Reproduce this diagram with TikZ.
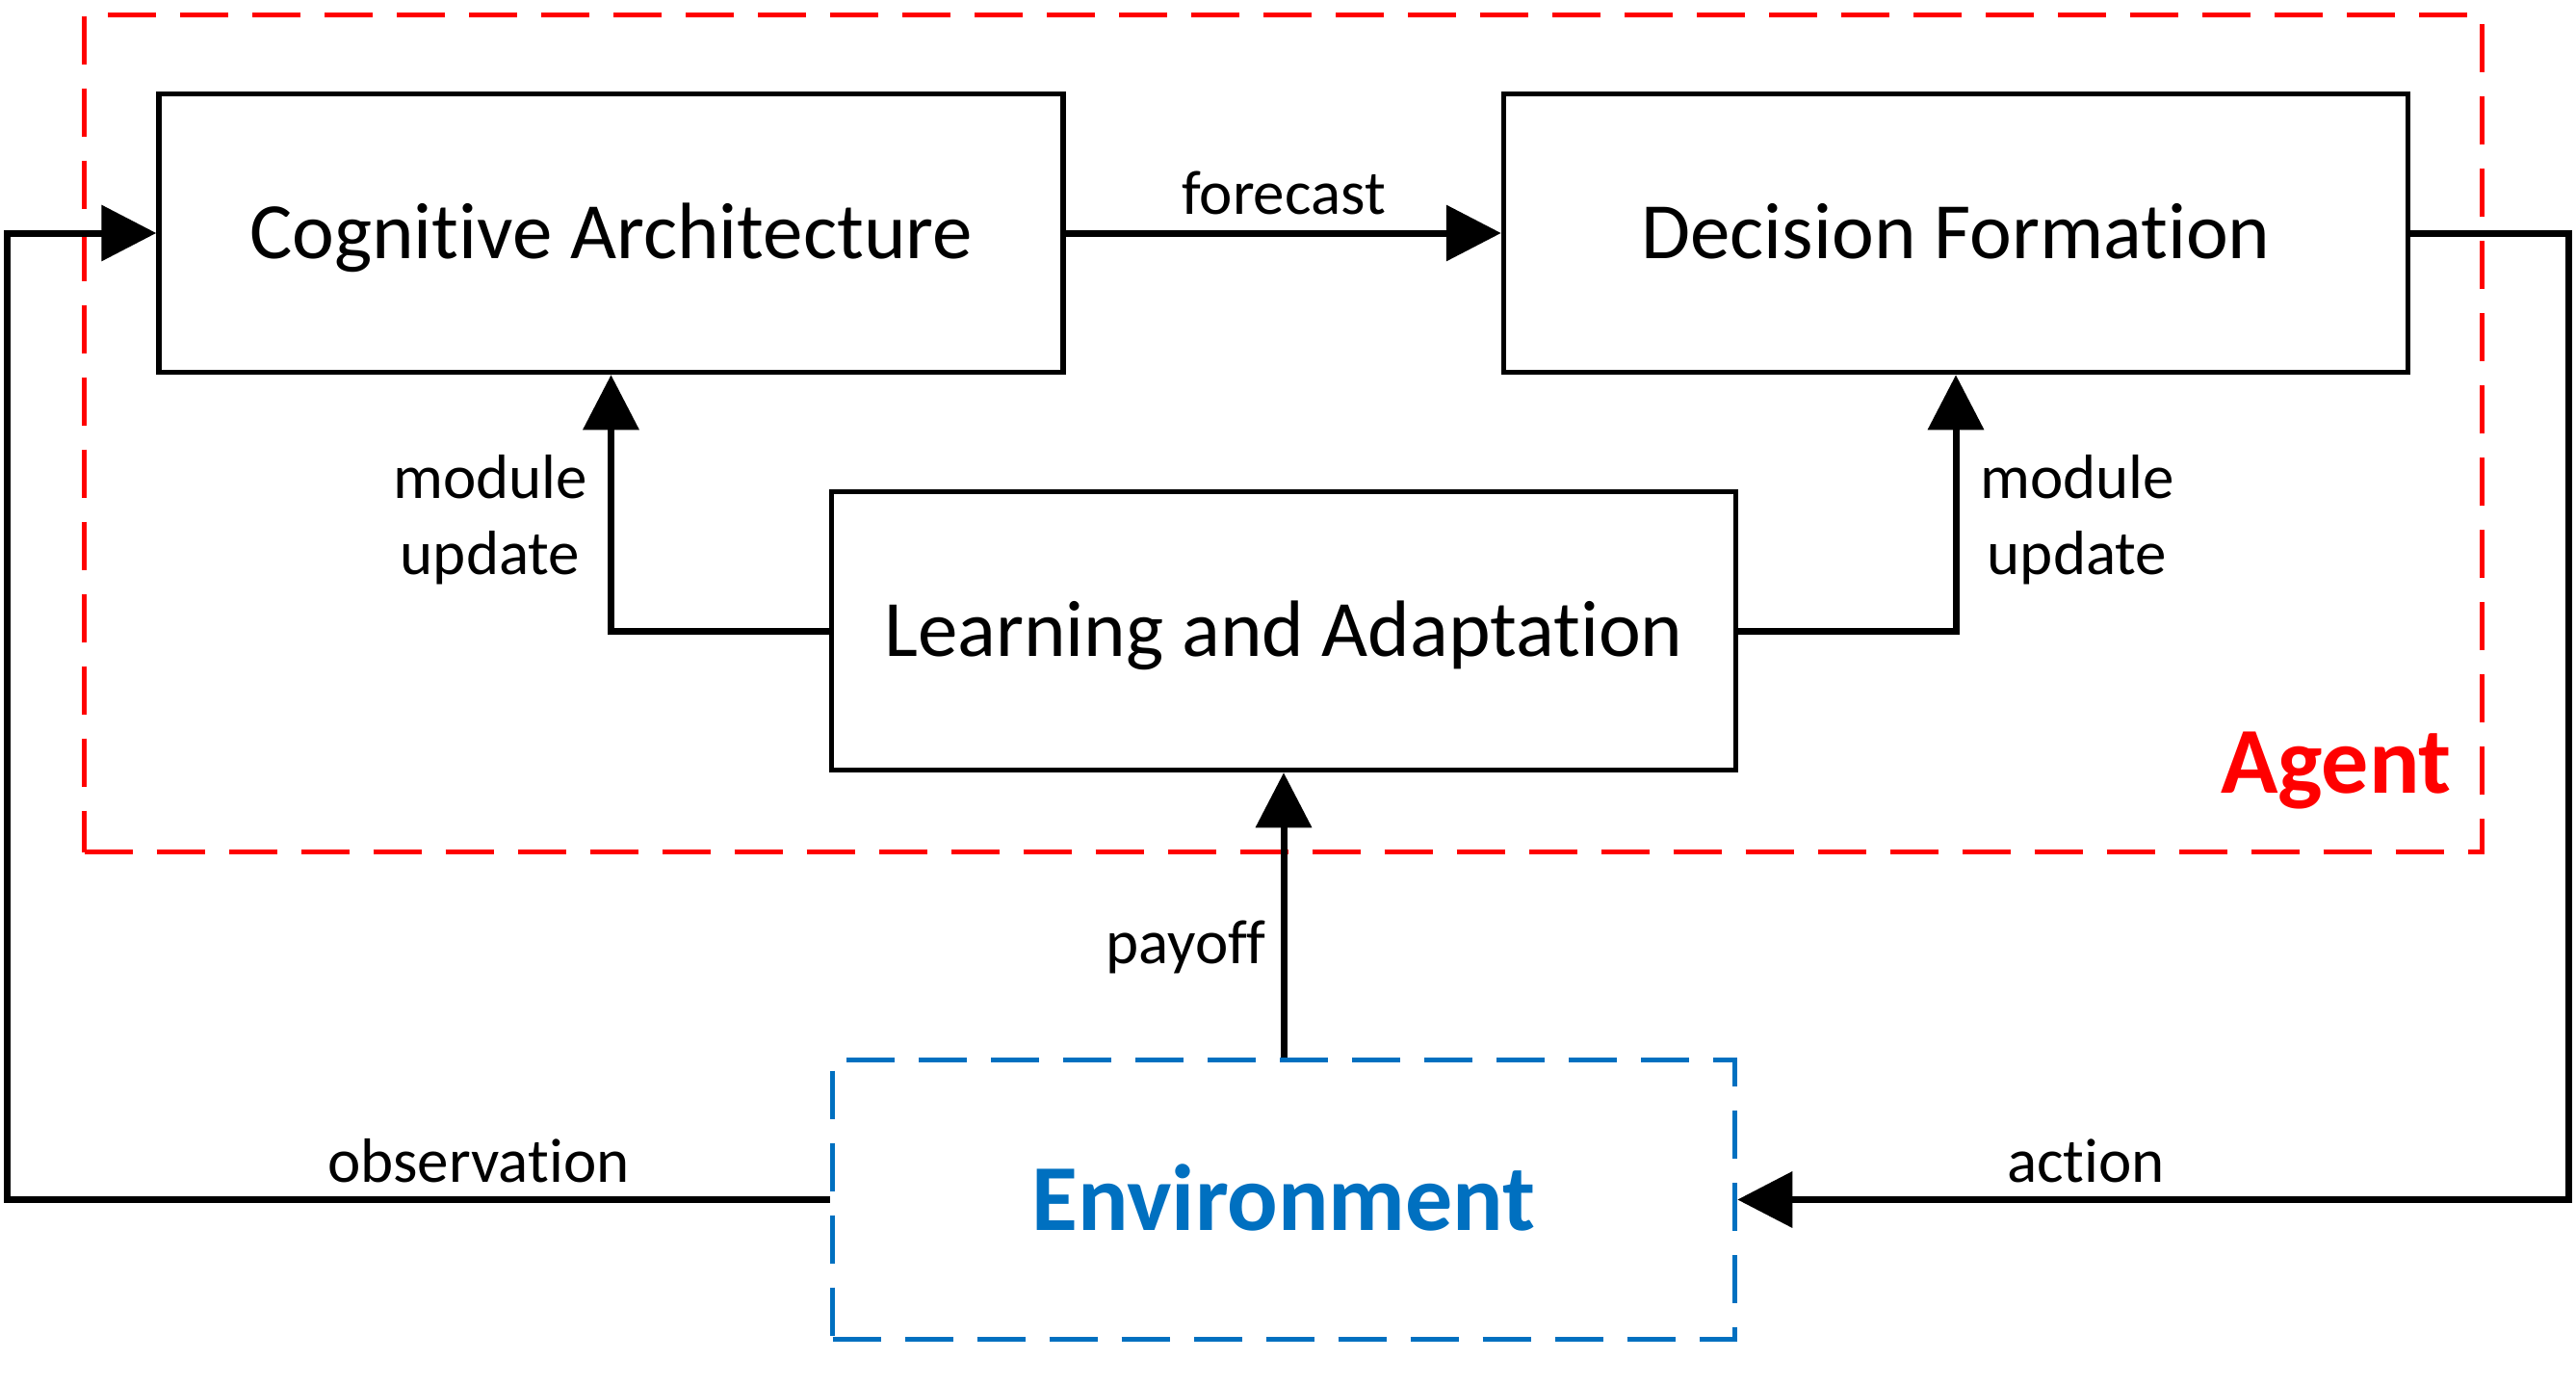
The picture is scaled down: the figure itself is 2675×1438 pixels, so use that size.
\documentclass[tikz,border=0pt]{standalone}
\usepackage{fontspec}
\setmainfont{Carlito}[Ligatures={NoCommon}]
\usetikzlibrary{arrows.meta}
\definecolor{agentred}{HTML}{FF0000}
\definecolor{envblue}{HTML}{0070C0}
\tikzset{
  block/.style={draw=black, line width=5.5pt, minimum width=939pt, minimum height=289pt,
    inner sep=0pt, text height=53pt, text depth=0pt, font=\fontsize{83}{100}\selectfont},
  agentbox/.style={draw=agentred, line width=5.5pt, dash pattern=on 50pt off 25pt,
    minimum width=2490pt, minimum height=869pt, inner sep=0pt},
  envbox/.style={draw=envblue, line width=5.5pt, dash pattern=on 50pt off 25pt,
    minimum width=937pt, minimum height=290pt, inner sep=0pt, text=envblue,
    text height=63pt, text depth=0pt, font=\fontsize{98}{118}\selectfont\bfseries},
  conn/.style={draw=black, line width=7pt},
  arr/.style={conn, -{Triangle[length=57pt,width=57pt]}},
  lbl/.style={inner sep=0pt, font=\fontsize{65}{79}\selectfont},
}
\begin{document}
\begin{tikzpicture}[x=1pt,y=-1pt]
\useasboundingbox[fill=white] (0,0) rectangle (2675,1438);

\node[agentbox] (agent) at (1332.5,450) {};
\node[anchor=base east, inner sep=0pt, text=agentred, font=\fontsize{98}{118}\selectfont\bfseries] (agentlbl) at (2546,823) {Agent};

\node[block] (ca) at (634.5,242) {Cognitive Architecture};
\node[block] (df) at (2031,242) {Decision Formation};
\node[block] (la) at (1333,655) {Learning and Adaptation};
\node[envbox] (env) at (1333,1245.5) {Environment};

\coordinate (L) at (7,0);
\coordinate (R) at (2667,0);

\draw[arr] (ca.east) -- (df.west);
\draw[arr] (la.west) -| (ca.south);
\draw[arr] (la.east) -| (df.south);
\draw[arr] (env.north) -- (la.south);
\draw[arr] (env.west) -- (env.west -| L) -- (ca.west -| L) -- (ca.west);
\draw[arr] (df.east) -- (df.east -| R) -- (env.east -| R) -- (env.east);

\node[lbl, anchor=base] (fc) at (1333,222) {forecast};
\node[lbl, anchor=base] (mu1) at (509,517) {module};
\node[lbl, anchor=base] (mu2) at (509,596) {update};
\node[lbl, anchor=base] (mu3) at (2157,517) {module};
\node[lbl, anchor=base] (mu4) at (2157,596) {update};
\node[lbl, anchor=base east] (pay) at (1315,1000) {payoff};
\node[lbl, anchor=base] (obs) at (497,1227) {observation};
\node[lbl, anchor=base] (act) at (2166,1227) {action};
\end{tikzpicture}
\end{document}
